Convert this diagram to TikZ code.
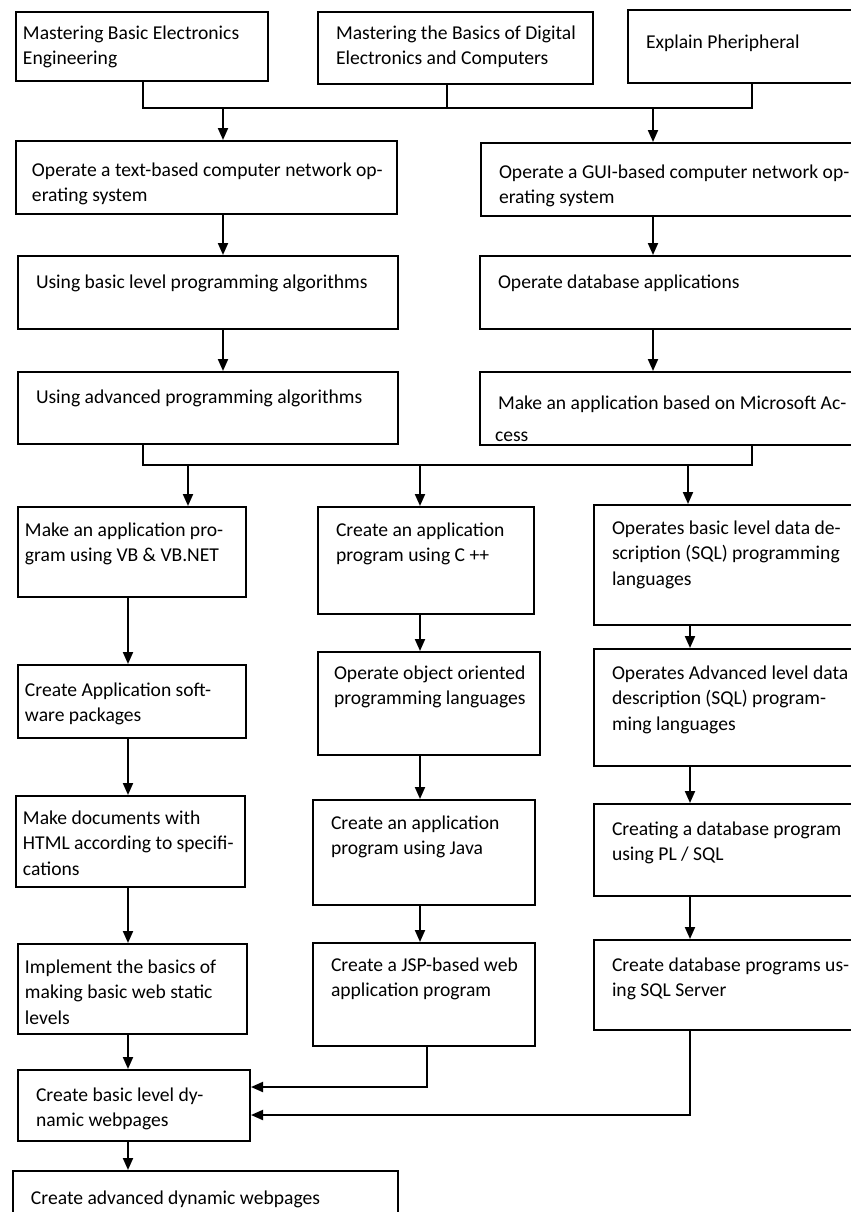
\documentclass[tikz,border=0pt]{standalone}
\usepackage{fontspec}
\setmainfont{Carlito}
\usetikzlibrary{arrows.meta}

\begin{document}
\begin{tikzpicture}[x=0.5pt,y=-0.5pt,
  every node/.style={font=\fontsize{9.8}{12.8}\selectfont},
  stepbox/.style={draw,line width=1pt,anchor=north west,align=left,inner xsep=9pt,inner ysep=4pt,
    execute at begin node={\spaceskip=0pt\rightskip=-14pt plus 1fil\relax}},
  tightpad/.style={inner xsep=3.5pt},
  link/.style={line width=1pt},
  arr/.style={line width=1pt,-{Triangle[length=6pt,width=5pt]}}]

\useasboundingbox (0,0) rectangle (851,1212);
\clip (0,0) rectangle (851,1212);

\node[stepbox,tightpad,text width=119pt,text height=9.5pt,text depth=17pt] (B1) at (15,11) {Mastering Basic Electronics\\Engineering};
\node[stepbox,text width=119.5pt,text height=9.5pt,text depth=18.5pt] (B2) at (317,11) {Mastering the Basics of Digital\\Electronics and Computers};
\node[stepbox,text width=107pt,text height=15pt,text depth=13.5pt] (B3) at (627,9) {Explain Pheripheral};

\node[stepbox,inner xsep=8pt,text width=174.5pt,text height=13.5pt,text depth=15pt] (B4) at (15,140) {Operate a text-based computer network op-\\erating system};
\node[stepbox,text width=192pt,text height=13.5pt,text depth=15pt] (B5) at (480,142) {Operate a GUI-based computer network op-\\erating system};
\node[stepbox,text width=172pt,text height=12pt,text depth=16.5pt] (B6) at (17,255) {Using basic level programming algorithms};
\node[stepbox,text width=192pt,text height=12pt,text depth=16.5pt] (B7) at (479,255) {Operate database applications};
\node[stepbox,text width=172pt,text height=11.5pt,text depth=16.5pt] (B8) at (17,371) {Using advanced programming algorithms};
\node[stepbox,text width=192pt,text height=14.5pt,text depth=14pt] (B9) at (479,371) {Make an application based on Microsoft Ac-\\[3.5pt]\hspace*{-1.5pt}cess};

\node[stepbox,tightpad,text width=107pt,text height=10.5pt,text depth=26.5pt] (B10) at (17,506) {Make an application pro-\\gram using VB \& VB.NET};
\node[stepbox,tightpad,text width=107pt,text height=11.5pt,text depth=17pt] (B11) at (17,664) {Create Application soft-\\ware packages};
\node[stepbox,tightpad,text width=107.5pt,text height=10pt,text depth=27.5pt] (B16) at (15,795) {Make documents with\\HTML according to specifi-\\cations};
\node[stepbox,tightpad,text width=107.5pt,text height=10.5pt,text depth=26.5pt] (B17) at (17,943) {Implement the basics of\\making basic web static\\levels};
\node[stepbox,text width=98pt,text height=11.5pt,text depth=16pt] (B22) at (17,1069) {Create basic level dy-\\namic webpages};
\node[stepbox,text width=174.5pt,text height=12.5pt,text depth=19.5pt] (B23) at (12,1170) {Create advanced dynamic webpages};

\node[stepbox,text width=90pt,text height=10.5pt,text depth=35pt] (B12) at (317,506) {Create an application\\program using C ++};
\node[stepbox,inner xsep=8pt,text width=95pt,text height=9.5pt,text depth=34pt] (B13) at (317,651) {Operate object oriented\\programming languages};
\node[stepbox,text width=93pt,text height=10.5pt,text depth=34pt] (B18) at (312,799) {Create an application\\program using Java};
\node[stepbox,text width=93pt,text height=10pt,text depth=33.5pt] (B19) at (312,942) {Create a JSP-based web\\application program};

\node[stepbox,text width=132pt,text height=10.5pt,text depth=41.5pt] (B14) at (593,504) {Operates basic level data de-\\scription (SQL) programming\\languages};
\node[stepbox,text width=132pt,text height=11pt,text depth=39.5pt] (B15) at (593,648) {Operates Advanced level data\\description (SQL) program-\\ming languages};
\node[stepbox,text width=132pt,text height=11.5pt,text depth=26.5pt] (B20) at (593,803) {Creating a database program\\using PL / SQL};
\node[stepbox,text width=132pt,text height=11.5pt,text depth=25.5pt] (B21) at (593,939) {Create database programs us-\\ing SQL Server};

\coordinate (c1) at (143,108);
\coordinate (c2) at (447,108);
\coordinate (c3) at (752,108);
\coordinate (j1) at (223,108);
\coordinate (j2) at (653,108);
\draw[link] (c1 |- B1.south) -- (c1) -- (c3) -- (c3 |- B3.south);
\draw[link] (c2 |- B2.south) -- (c2);
\draw[arr] (j1) -- (j1 |- B4.north);
\draw[arr] (j2) -- (j2 |- B5.north);
\draw[arr] (j1 |- B4.south) -- (j1 |- B6.north);
\draw[arr] (j1 |- B6.south) -- (j1 |- B8.north);
\draw[arr] (j2 |- B5.south) -- (j2 |- B7.north);
\draw[arr] (j2 |- B7.south) -- (j2 |- B9.north);

\coordinate (d1) at (143,465);
\coordinate (d2) at (752,465);
\coordinate (k1) at (188,465);
\coordinate (k2) at (420,465);
\coordinate (k3) at (688,465);
\draw[link] (d1 |- B8.south) -- (d1) -- (d2) -- (d2 |- B9.south);
\draw[arr] (k1) -- (k1 |- B10.north);
\draw[arr] (k2) -- (k2 |- B12.north);
\draw[arr] (k3) -- (k3 |- B14.north);

\coordinate (colA) at (128,0);
\coordinate (colB) at (420,0);
\coordinate (colC) at (690,0);
\draw[arr] (colA |- B10.south) -- (colA |- B11.north);
\draw[arr] (colA |- B11.south) -- (colA |- B16.north);
\draw[arr] (colA |- B16.south) -- (colA |- B17.north);
\draw[arr] (colA |- B17.south) -- (colA |- B22.north);
\draw[arr] (colA |- B22.south) -- (colA |- B23.north);
\draw[arr] (colB |- B12.south) -- (colB |- B13.north);
\draw[arr] (colB |- B13.south) -- (colB |- B18.north);
\draw[arr] (colB |- B18.south) -- (colB |- B19.north);
\draw[arr] (colC |- B14.south) -- (colC |- B15.north);
\draw[arr] (colC |- B15.south) -- (colC |- B20.north);
\draw[arr] (colC |- B20.south) -- (colC |- B21.north);

\coordinate (e1) at (427,1087);
\coordinate (e2) at (690,1115);
\draw[arr] (e1 |- B19.south) -- (e1) -- (e1 -| B22.east);
\draw[arr] (e2 |- B21.south) -- (e2) -- (e2 -| B22.east);
\end{tikzpicture}
\end{document}
